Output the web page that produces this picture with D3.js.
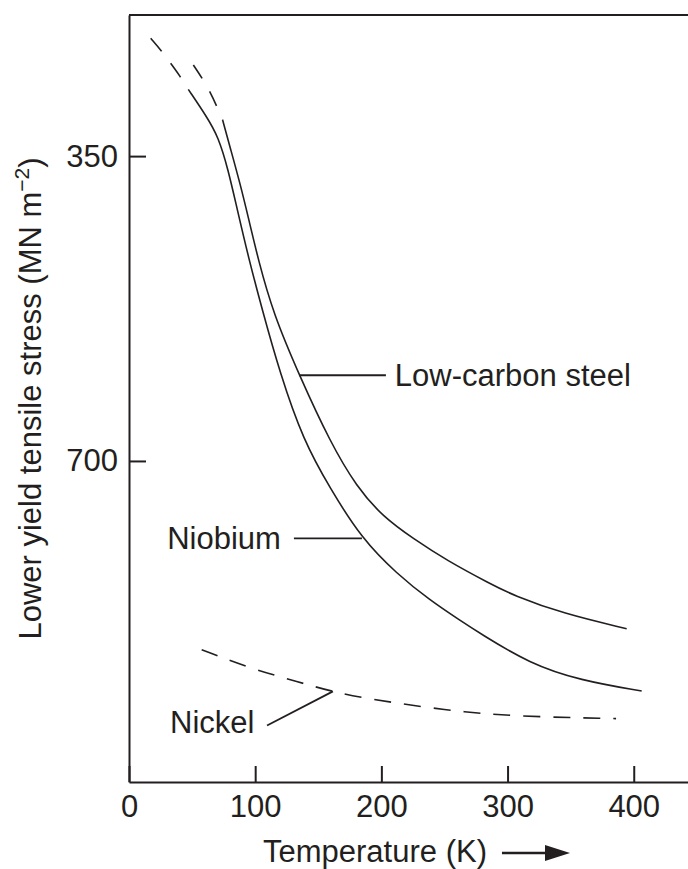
<!DOCTYPE html>
<html>
<head>
<meta charset="utf-8">
<script src="https://cdn.jsdelivr.net/npm/d3@7"></script>
<style>
  body { margin: 0; background: #fff; }
  svg { display: block; }
  text { font-family: "Liberation Sans", Arial, sans-serif; fill: #231f20; }
</style>
</head>
<body>
<svg width="688" height="869"></svg>
<script>
// values (temperature in K, stress in MN m^-2)
const xTicks = [0, 100, 200, 300, 400]
const yTicks = [350, 700]

const steelDashT = [51, 58.1, 64.2, 69.5, 74.2]
const steelDashS = [245.4, 260.7, 276.1, 292.5, 308.6]
const steelT = [74.2, 80, 88, 94.5, 102.5, 114.3, 135.5, 159.3, 180.4, 201.5, 225.3, 251.7, 286.1, 304.5, 344.1, 394.4]
const steelS = [308.6, 339.3, 381.3, 420, 469.5, 530.7, 603.5, 678, 729.9, 764.4, 789.2, 814.1, 840.9, 854.3, 875.3, 892.6]

const niobiumDashT = [17.2, 25.9, 33, 40.4, 47]
const niobiumDashS = [214.8, 229.4, 243.5, 258.1, 273.4]
const niobiumT = [47, 61.6, 70.8, 78.7, 85.3, 95.2, 105, 119.7, 138.1, 159.3, 184.4, 212.1, 238.5, 262.3, 278.1, 317.7, 357.4, 406.3]
const niobiumS = [273.4, 304.8, 327.8, 366.1, 408.2, 469.5, 523.1, 599.6, 676.2, 731.4, 789.2, 829.4, 860, 883, 898, 932.8, 951.9, 964.2]

const nickelT = [57.6, 95.9, 135.5, 159.3, 188.3, 251.7, 304.3, 386]
const nickelS = [916.7, 938.2, 954.2, 964.2, 973, 986.4, 993.3, 995.8]

const labels = [
  { text: 'Low-carbon steel', from: [134.7, 601.6], to: [203.6, 601.6], anchor: 'start', at: [210.7, 602] },
  { text: 'Niobium', from: [184.6, 788.8], to: [130.7, 788.8], anchor: 'end', at: [120.4, 788.8] },
  { text: 'Nickel', from: [161.6, 964.6], to: [109.4, 1003.7], anchor: 'start', at: [32.5, 1000] }
]

const ink = '#231f20'
const fontSize = 31

const svg = d3.select('svg')

const x = d3.scaleLinear().domain([0, 443]).range([129, 688])
const y = d3.scaleLinear().domain([188, 1068.6]).range([15, 782])

const zip = (a, b) => a.map((d, i) => [d, b[i]])

// frame: top border, left + bottom axes
svg.append('line')
  .attr('x1', x(0)).attr('x2', x.range()[1])
  .attr('y1', y.range()[0]).attr('y2', y.range()[0])
  .attr('stroke', ink).attr('stroke-width', 2)

const yAxis = svg.append('g')
  .attr('transform', `translate(${x(0)},0)`)
  .call(d3.axisLeft(y).tickValues(yTicks).tickSizeInner(-17).tickSizeOuter(0).tickPadding(11))
yAxis.select('.domain').attr('stroke', ink).attr('stroke-width', 2)
yAxis.selectAll('.tick line').attr('stroke', ink).attr('stroke-width', 2)
yAxis.selectAll('.tick text')
  .style('font-size', fontSize + 'px')
  .style('font-family', '"Liberation Sans", Arial, sans-serif')
  .attr('fill', ink)

const xAxis = svg.append('g')
  .attr('transform', `translate(0,${y.range()[1]})`)
  .call(d3.axisBottom(x).tickValues(xTicks).tickSizeInner(-16).tickSizeOuter(0).tickPadding(13))
xAxis.select('.domain').attr('stroke', ink).attr('stroke-width', 2)
xAxis.selectAll('.tick line').attr('stroke', ink).attr('stroke-width', 2)
xAxis.selectAll('.tick text')
  .style('font-size', fontSize + 'px')
  .style('font-family', '"Liberation Sans", Arial, sans-serif')
  .attr('fill', ink)

// axis titles
const yTitle = svg.append('text')
  .attr('transform', 'rotate(-90)')
  .attr('x', -(y.range()[0] + y.range()[1]) / 2)
  .attr('y', 41)
  .attr('text-anchor', 'middle')
  .style('font-size', fontSize + 'px')
yTitle.append('tspan').text('Lower yield tensile stress (MN m')
yTitle.append('tspan').attr('dy', -12).style('font-size', '21px').text('\u22122')
yTitle.append('tspan').attr('dy', 12).text(')')

const xTitle = svg.append('text')
  .attr('x', 263)
  .attr('y', 862)
  .style('font-size', fontSize + 'px')
  .text('Temperature (K)')
const tEnd = 263 + xTitle.node().getComputedTextLength()
svg.append('line')
  .attr('x1', tEnd + 15).attr('x2', tEnd + 62)
  .attr('y1', 853).attr('y2', 853)
  .attr('stroke', ink).attr('stroke-width', 2.5)
svg.append('path')
  .attr('d', `M${tEnd + 83},853 L${tEnd + 58},845 L${tEnd + 58},861 Z`)
  .attr('fill', ink)

// curves
const line = d3.line()
  .x(d => x(d[0]))
  .y(d => y(d[1]))
  .curve(d3.curveBasis)

const series = [
  { pts: zip(steelDashT, steelDashS), dash: '16 15' },
  { pts: zip(steelT, steelS), dash: null },
  { pts: zip(niobiumDashT, niobiumDashS), dash: '17 15' },
  { pts: zip(niobiumT, niobiumS), dash: null },
  { pts: zip(nickelT, nickelS), dash: '17 13' }
]

svg.selectAll('path.curve')
  .data(series)
  .enter()
  .append('path')
  .attr('class', 'curve')
  .attr('d', d => line(d.pts))
  .attr('fill', 'none')
  .attr('stroke', ink)
  .attr('stroke-width', 1.6)
  .attr('stroke-dasharray', d => d.dash)

// labels with pointer lines
svg.selectAll('line.pointer')
  .data(labels)
  .enter()
  .append('line')
  .attr('class', 'pointer')
  .attr('x1', d => x(d.from[0])).attr('y1', d => y(d.from[1]))
  .attr('x2', d => x(d.to[0])).attr('y2', d => y(d.to[1]))
  .attr('stroke', ink)
  .attr('stroke-width', 1.8)

svg.selectAll('text.lbl')
  .data(labels)
  .enter()
  .append('text')
  .attr('class', 'lbl')
  .attr('x', d => x(d.at[0]))
  .attr('y', d => y(d.at[1]))
  .attr('dy', '0.35em')
  .attr('text-anchor', d => d.anchor)
  .style('font-size', fontSize + 'px')
  .text(d => d.text)
</script>
</body>
</html>
